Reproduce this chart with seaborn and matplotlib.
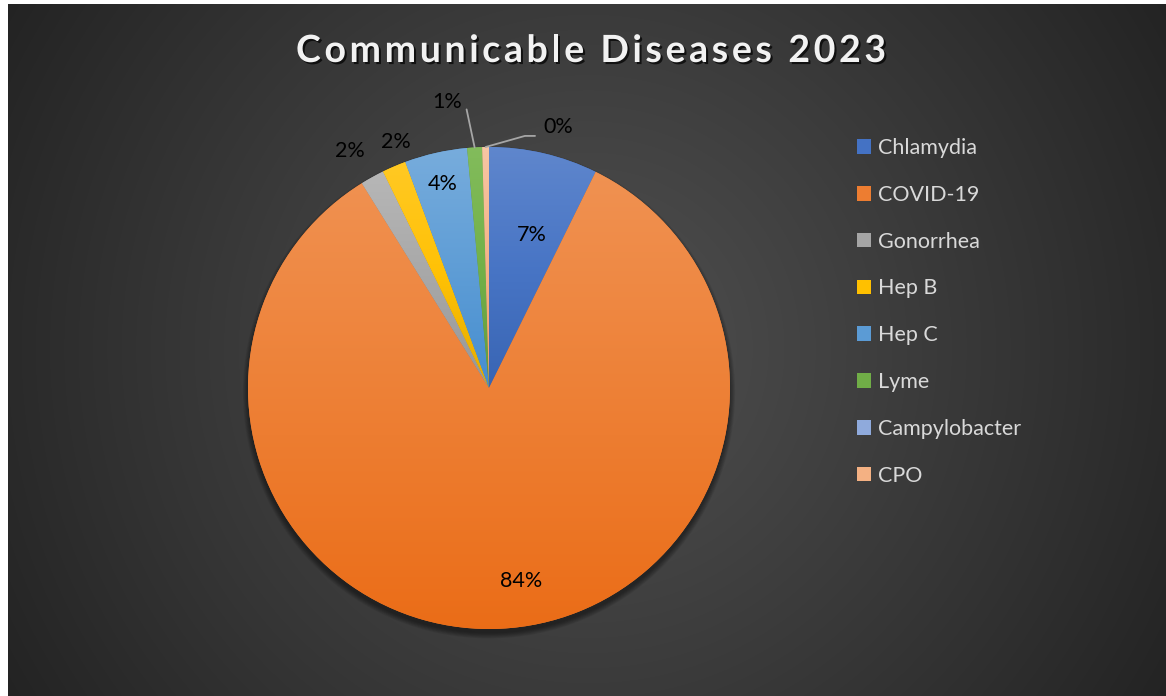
import colorsys
import numpy as np
import matplotlib
matplotlib.use("Agg")
import matplotlib.pyplot as plt
import matplotlib.patheffects as pe
from matplotlib.patches import Circle
from matplotlib.colors import to_rgb
import seaborn as sns

# data (share of reported cases, %)
diseases = ["Chlamydia", "COVID-19", "Gonorrhea", "Hep B", "Hep C", "Lyme", "Campylobacter", "CPO"]
share = [7.3, 83.9, 1.6, 1.6, 4.2, 1.0, 0.0, 0.45]

colors = sns.color_palette(["#4472C4", "#ED7D31", "#A5A5A5", "#FFC000",
                            "#5B9BD5", "#70AD47", "#8FAADC", "#F4B183"])
title = "Communicable Diseases 2023"

sns.set_style("white")
plt.rcParams["font.family"] = ["Lato", "DejaVu Sans"]

W, H = 1166, 696
fig = plt.figure(figsize=(W / 100, H / 100), dpi=100, facecolor="white")

# dark radial background
bg = fig.add_axes([8 / W, 0, 1 - 8 / W, 1 - 4 / H])
yy, xx = np.mgrid[0:692, 0:1158]
d = np.clip(np.hypot(xx - 580, yy - 345) / 690, 0, 1)
shade = (0x50 + (0x23 - 0x50) * d ** 1.1) / 255
bg.imshow(shade, cmap="gray", vmin=0, vmax=1, aspect="auto")
bg.axis("off")

# pie
cx, cy, R = 489, 388, 241
ax = fig.add_axes([(cx - R) / W, (H - cy - R) / H, 2 * R / W, 2 * R / H])
wedges, _ = ax.pie(share, colors=colors, startangle=90, counterclock=False,
                   radius=1, wedgeprops=dict(linewidth=0))

# soft shadow under the pie
for k in range(7):
    ax.add_patch(Circle((0, -0.018), 1 + 0.0035 * k, color="black", alpha=0.07,
                        zorder=0.5, lw=0, clip_on=False))


def shift_light(c, dl):
    h, l, s = colorsys.rgb_to_hls(*to_rgb(c))
    return np.array(colorsys.hls_to_rgb(h, min(max(l + dl, 0), 1), s))


# vertical gradient on every slice (light top, deeper bottom)
for w, c in zip(wedges, colors):
    if abs(w.theta2 - w.theta1) < 1e-6:
        continue
    ext = w.get_path().get_extents()
    top, mid, bot = shift_light(c, 0.07), shift_light(c, 0.01), shift_light(c, -0.055)
    t = np.linspace(0, 1, 256)[:, None, None]
    grad = np.where(t < 0.5, top + (mid - top) * (t / 0.5), mid + (bot - mid) * ((t - 0.5) / 0.5))
    grad = np.repeat(grad, 2, axis=1)
    im = ax.imshow(grad, extent=[ext.x0, ext.x1, ext.y0, ext.y1], aspect="auto",
                   zorder=w.get_zorder() + 0.1, interpolation="bilinear")
    im.set_clip_path(w)

ax.set_xlim(-1, 1)
ax.set_ylim(-1, 1)
ax.set_aspect("equal")
ax.axis("off")

# data labels
total = sum(share)
label_r = [0.66, 0.81, 1.14, 1.09, 0.87, 1.2, None, 1.12]
label_shift = [-2.6, 6.6, 1.5, -2.5, 0, 4.8, 0, -15.6]
for w, v, r, s in zip(wedges, share, label_r, label_shift):
    if r is None:
        continue
    mid = np.deg2rad((w.theta1 + w.theta2) / 2)
    ang = mid + np.deg2rad(s)
    ax.text(r * np.cos(ang), r * np.sin(ang), f"{v / total * 100:.0f}%",
            ha="center", va="center", fontsize=15.5, color="black")

# leader lines for the thin slices (Lyme, CPO)
for i, pts in [(5, [(-0.093, 1.156)]), (7, [(0.149, 1.046), (0.191, 1.046)])]:
    w = wedges[i]
    mid = np.deg2rad((w.theta1 + w.theta2) / 2)
    xs = [np.cos(mid)] + [p[0] for p in pts]
    ys = [np.sin(mid)] + [p[1] for p in pts]
    ax.plot(xs, ys, color="#a6a6a6", lw=1.3, clip_on=False, zorder=3)

# legend
fig.legend(wedges, diseases, loc="upper left", bbox_to_anchor=(857 / W, 1 - 138 / H),
           frameon=False, fontsize=15.5, labelcolor="#d9d9d9",
           borderpad=0, borderaxespad=0,
           handlelength=0.66, handleheight=0.66, handletextpad=0.3,
           labelspacing=1.245)

# title with extra letter spacing (drawn glyph by glyph)
title_kw = dict(fontsize=27, fontweight="bold", color="#f2f2f2", va="center", ha="left",
                path_effects=[pe.withSimplePatchShadow(offset=(1.5, -1.5), alpha=0.7,
                                                       shadow_rgbFace="black")])
renderer = fig.canvas.get_renderer()
track = 3.6
probe = fig.text(0, 0, title, **title_kw)
full_w = probe.get_window_extent(renderer).width + track * (len(title) - 1)
probe.remove()
x0 = 591 - full_w / 2
for i, ch in enumerate(title):
    if i:
        p = fig.text(0, 0, title[:i] + "|", **title_kw)
        q = fig.text(0, 0, "|", **title_kw)
        off = p.get_window_extent(renderer).width - q.get_window_extent(renderer).width
        p.remove(); q.remove()
    else:
        off = 0
    if ch != " ":
        fig.text((x0 + off + track * i) / W, 1 - 51 / H, ch, **title_kw)

fig.savefig("out.png", dpi=100, facecolor=fig.get_facecolor())
